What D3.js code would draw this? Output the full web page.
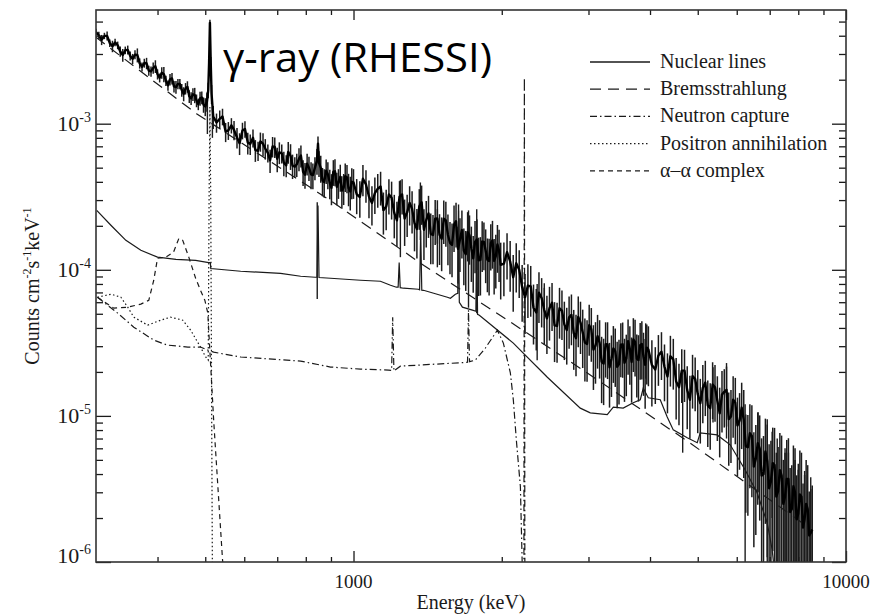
<!DOCTYPE html>
<html lang="en">
<head>
<meta charset="UTF-8"/>
<title>RHESSI gamma-ray spectrum</title>
<script src="https://d3js.org/d3.v7.min.js"></script>
<style>
  body { margin: 0; background: #fff; }
  svg { display: block; }
</style>
</head>
<body>
<script>
// ---- data ----
// observed count spectrum [keV, counts cm-2 s-1 keV-1, relative error]
var observed = [
  [300,4.25e-3,.05],[304,4.02e-3,.06],[308,3.75e-3,.08],[312,3.99e-3,.05],[316,3.99e-3,.07],[320,3.56e-3,.06],
  [324,3.39e-3,.09],[328,3.6e-3,.06],[332,3.44e-3,.06],[336,3.12e-3,.08],[340,2.95e-3,.1],[344,3.18e-3,.06],
  [348,3.2e-3,.07],[352,2.91e-3,.07],[356,2.78e-3,.08],[360,2.97e-3,.07],[364,2.95e-3,.11],[368,2.59e-3,.08],
  [372,2.45e-3,.07],[376,2.6e-3,.07],[380,2.59e-3,.09],[384,2.31e-3,.08],[388,2.28e-3,.08],[392,2.41e-3,.09],
  [396,2.47e-3,.1],[400,2.18e-3,.08],[404,2.06e-3,.07],[408,2.23e-3,.09],[412,2.18e-3,.12],[416,1.97e-3,.08],
  [420,1.83e-3,.08],[424,2.01e-3,.09],[428,2.04e-3,.09],[432,1.8e-3,.09],[436,1.78e-3,.1],[440,1.87e-3,.08],
  [444,1.87e-3,.08],[448,1.7e-3,.1],[452,1.6e-3,.11],[456,1.74e-3,.09],[460,1.79e-3,.09],[464,1.54e-3,.1],
  [468,1.49e-3,.1],[472,1.59e-3,.1],[476,1.57e-3,.12],[480,1.44e-3,.1],[484,1.36e-3,.09],[488,1.49e-3,.11],
  [492,1.51e-3,.1],[496,1.35e-3,.12],[500,1.31e-3,.14],[504,1.42e-3,.15],[507,1.7e-3,.12],[509,2.6e-3,.1],
  [511,4.9e-3,.05],[513,2.6e-3,.1],[515,1.6e-3,.15],[519,1.12e-3,.18],
  [527,1.02e-3,.15],[535,1.08e-3,.14],[542,1.12e-3,.13],[550,8.8e-4,.15],[557,9.0e-4,.14],[565,9.74e-4,.12],
  [572,9.06e-4,.15],[580,8.04e-4,.16],[587,7.35e-4,.17],[595,8.98e-4,.13],[602,9.2e-4,.13],[610,7.42e-4,.17],
  [617,7.27e-4,.16],[625,8.0e-4,.14],[632,6.6e-4,.17],[640,6.53e-4,.15],[647,7.56e-4,.15],[655,7.29e-4,.18],
  [662,6.76e-4,.16],[670,6.31e-4,.14],[677,5.61e-4,.18],[685,6.99e-4,.16],[692,6.93e-4,.16],[700,5.75e-4,.19],
  [707,6.37e-4,.17],[715,6.27e-4,.15],[722,5.4e-4,.19],[730,5.19e-4,.17],[737,6.41e-4,.17],[745,6.03e-4,.2],
  [752,5.16e-4,.19],[760,5.08e-4,.16],[767,5.27e-4,.18],[775,5.76e-4,.18],[782,6.05e-4,.17],[790,4.69e-4,.2],
  [797,4.48e-4,.2],[805,5.32e-4,.17],[812,5.0e-4,.19],[820,4.5e-4,.21],[827,4.45e-4,.2],[835,5.0e-4,.18],
  [843,5.6e-4,.2],[847,7.3e-4,.12],[851,5.4e-4,.2],[858,4.99e-4,.21],[865,4.08e-4,.22],[872,3.99e-4,.22],
  [880,4.77e-4,.19],[887,4.5e-4,.21],[895,3.94e-4,.23],[902,3.64e-4,.24],[910,4.69e-4,.2],[917,4.72e-4,.21],
  [925,3.69e-4,.25],[932,3.97e-4,.23],[940,4.33e-4,.21],[947,3.49e-4,.25],[955,3.65e-4,.24],[962,4.37e-4,.22],
  [970,4.28e-4,.22],[977,3.63e-4,.25],[985,3.44e-4,.26],[992,4.0e-4,.24],[1000,3.97e-4,.23],
  [1015,3.29e-4,.27],[1030,3.15e-4,.28],[1045,4.2e-4,.24],[1060,3.84e-4,.25],[1075,3.17e-4,.29],[1090,2.87e-4,.3],
  [1105,3.35e-4,.28],[1120,3.59e-4,.26],[1135,3.72e-4,.26],[1150,2.56e-4,.32],[1165,2.7e-4,.31],[1180,3.28e-4,.27],
  [1195,3.11e-4,.29],[1210,2.45e-4,.33],[1225,2.18e-4,.34],[1240,3.16e-4,.28],[1255,3.28e-4,.27],[1270,2.24e-4,.35],
  [1285,2.47e-4,.32],[1300,2.87e-4,.3],[1315,2.61e-4,.32],[1330,2.09e-4,.36],[1345,1.9e-4,.37],[1360,2.72e-4,.31],
  [1375,2.9e-4,.3],[1390,1.88e-4,.38],[1405,2.19e-4,.35],[1420,2.43e-4,.32],[1435,1.76e-4,.38],[1450,1.73e-4,.37],
  [1465,2.24e-4,.34],[1480,2.25e-4,.33],[1495,1.74e-4,.38],[1510,1.63e-4,.4],[1525,2.24e-4,.33],[1540,2.18e-4,.34],
  [1555,1.73e-4,.38],[1570,1.53e-4,.39],[1585,1.48e-4,.4],[1600,2.04e-4,.35],[1615,2.15e-4,.34],[1630,1.39e-4,.42],
  [1645,1.61e-4,.4],[1660,1.87e-4,.36],[1675,1.35e-4,.42],[1690,1.28e-4,.44],[1705,1.81e-4,.37],[1720,1.72e-4,.37],
  [1735,1.4e-4,.41],[1750,1.2e-4,.42],[1765,1.55e-4,.39],[1780,1.61e-4,.38],[1795,1.16e-4,.43],[1810,1.17e-4,.43],
  [1825,1.56e-4,.38],[1840,1.55e-4,.36],[1855,1.35e-4,.4],[1870,1.17e-4,.4],[1885,1.15e-4,.42],[1900,1.52e-4,.35],
  [1915,1.59e-4,.36],[1930,1.15e-4,.41],[1945,1.24e-4,.4],[1960,1.49e-4,.36],[1975,1.35e-4,.39],[1990,1.08e-4,.42],
  [2020,1.1e-4,.4],
  [2050,1.32e-4,.35],[2080,1.14e-4,.38],[2110,8.9e-5,.42],[2140,1.11e-4,.37],[2170,1.0e-4,.36],[2200,7.6e-5,.42],
  [2230,6.5e-5,.44],[2260,7.8e-5,.4],[2290,7.7e-5,.38],[2320,5.5e-5,.44],[2350,5.1e-5,.45],[2380,6.96e-5,.38],
  [2410,6.4e-5,.37],[2440,5.3e-5,.42],[2470,4.65e-5,.43],[2500,5.46e-5,.4],[2530,5.96e-5,.36],[2560,4.17e-5,.44],
  [2590,4.13e-5,.44],[2620,5.45e-5,.38],[2650,5.26e-5,.37],[2680,4.23e-5,.43],[2710,3.87e-5,.42],[2740,4.73e-5,.39],
  [2770,4.91e-5,.38],[2800,3.69e-5,.44],[2830,3.4e-5,.45],[2860,4.76e-5,.38],[2890,4.35e-5,.39],[2920,3.73e-5,.43],
  [2950,3.18e-5,.46],[2980,3.11e-5,.45],[3010,4.17e-5,.38],[3040,3.91e-5,.4],[3070,2.84e-5,.47],[3100,3.02e-5,.45],
  [3130,3.51e-5,.4],[3160,3.16e-5,.43],[3190,2.35e-5,.48],[3220,2.28e-5,.48],[3250,3.1e-5,.41],[3280,3.08e-5,.42],
  [3310,2.15e-5,.47],[3340,2.45e-5,.45],[3370,2.9e-5,.42],[3400,2.77e-5,.43],[3430,2.17e-5,.48],[3460,2.26e-5,.47],
  [3490,3.07e-5,.4],[3520,3.09e-5,.41],[3550,2.31e-5,.46],[3580,2.48e-5,.45],[3610,3.24e-5,.41],[3640,2.87e-5,.43],
  [3670,2.34e-5,.47],[3700,3.33e-5,.4],[3730,3.21e-5,.42],[3760,2.47e-5,.46],[3790,2.41e-5,.48],[3820,3.05e-5,.42],
  [3850,3.11e-5,.43],[3880,2.54e-5,.46],[3910,2.24e-5,.5],[3940,2.93e-5,.44],[3970,2.85e-5,.44],[4035,2.23e-5,.48],
  [4100,2.08e-5,.42],[4160,2.59e-5,.38],[4220,2.75e-5,.36],[4280,2.17e-5,.42],[4340,1.86e-5,.44],[4400,2.56e-5,.38],
  [4460,2.44e-5,.38],[4520,1.72e-5,.45],[4580,1.57e-5,.45],[4640,2.04e-5,.4],[4700,2.04e-5,.39],[4760,1.5e-5,.46],
  [4820,1.29e-5,.46],[4880,1.87e-5,.4],[4940,1.79e-5,.4],[5000,1.41e-5,.46],[5060,1.22e-5,.47],[5120,1.56e-5,.43],
  [5180,1.69e-5,.41],[5240,1.18e-5,.48],[5300,1.13e-5,.48],[5360,1.64e-5,.42],[5420,1.57e-5,.42],[5480,1.27e-5,.47],
  [5540,1.04e-5,.5],[5600,1.4e-5,.45],[5660,1.46e-5,.43],[5720,1.51e-5,.44],[5780,9.5e-6,.52],[5840,9.9e-6,.52],
  [5900,1.29e-5,.45],[5960,1.23e-5,.48],[6020,8.6e-6,.55],[6080,9.3e-6,.54],[6140,1.14e-5,.48],[6200,9.4e-6,.6],
  [6260,6.2e-6,.65],[6320,6.1e-6,.66],[6380,7.6e-6,.58],[6440,7.3e-6,.62],[6500,4.5e-6,.72],[6560,5.1e-6,.7],
  [6620,6.5e-6,.62],[6680,6.0e-6,.68],[6740,3.9e-6,.8],[6800,4.0e-6,.82],[6860,5.7e-6,.68],[6920,4.9e-6,.78],
  [6980,3.2e-6,1],[7040,3.56e-6,.9],[7100,4.75e-6,.75],[7160,4.6e-6,.8],[7220,2.8e-6,1],[7280,3.06e-6,1],
  [7340,4.25e-6,.8],[7400,3.9e-6,.88],[7460,2.5e-6,1],[7520,2.8e-6,1],[7580,3.7e-6,.85],[7640,3.7e-6,.9],
  [7700,2.2e-6,1],[7760,2.3e-6,1],[7820,3.3e-6,.9],[7880,3.0e-6,1],[7940,1.96e-6,1],[8000,2.14e-6,1],
  [8060,2.9e-6,1],[8120,2.8e-6,1],[8180,1.72e-6,1],[8240,1.97e-6,1],[8300,2.5e-6,1],[8360,2.3e-6,1],
  [8420,1.52e-6,1],[8480,1.58e-6,1],[8540,1.67e-6,1]
];

// extra long error bars of the observed spectrum [keV, low, high]
var observedErr = [
  [505,8.5e-4,1.6e-3],[517,8.0e-4,1.3e-3],[844,6.3e-5,2.9e-4],
  [1245,1.22e-4,4.1e-4],[1367,1.6e-4,3.96e-4],[1480,1.04e-4,2.6e-4],[1634,1.0e-4,2.8e-4],
  [1712,5.5e-5,2.55e-4],[1779,5.05e-5,2.6e-4],[2360,2.4e-5,8.0e-5],[2440,4.0e-5,8.1e-5],
  [3920,1.8e-5,4.3e-5],[4660,5.6e-6,2.0e-5],[5370,9.0e-6,2.15e-5],[5720,7.0e-6,2.3e-5],
  [6240,8.0e-7,1.2e-5],[6630,3.0e-6,1.06e-5],[6920,8.0e-7,9.5e-6],[7080,2.0e-6,7.8e-6],
  [7250,8.0e-7,7.0e-6],[7520,8.0e-7,6.0e-6],[7640,8.0e-7,5.6e-6],[7880,8.0e-7,5.0e-6],
  [8000,8.0e-7,4.7e-6],[8240,8.0e-7,4.2e-6],[8480,8.0e-7,3.8e-6]
];

// model components
var nuclearLines = [
  [301,2.55e-4],[322,2.01e-4],[345,1.59e-4],[370,1.36e-4],[400,1.22e-4],[436,1.18e-4],[478,1.16e-4],[508,1.12e-4],
  [512,1.12e-4],[513,1.02e-4],[590,9.77e-5],[711,9.46e-5],[781,9.03e-5],[836,8.89e-5],[843,8.9e-5],[847,2.75e-4],
  [851,8.85e-5],[898,8.75e-5],[1033,8.48e-5],[1134,8.35e-5],[1189,7.84e-5],[1222,7.6e-5],[1232,7.6e-5],[1238,1.12e-4],
  [1244,7.55e-5],[1263,7.48e-5],[1354,7.36e-5],[1362,7.3e-5],[1369,1.86e-4],[1376,7.25e-5],[1387,7.24e-5],[1551,6.49e-5],
  [1573,6.39e-5],[1610,6.8e-5],[1628,6.9e-5],[1634,2.55e-4],[1640,6.0e-5],[1664,5.55e-5],[1744,5.29e-5],[1772,5.2e-5],
  [1779,2.18e-4],[1786,4.95e-5],[1801,4.89e-5],[2111,3.15e-5],[2475,1.84e-5],[2887,1.13e-5],[3025,1.05e-5],[3275,1.02e-5],
  [3369,1.15e-5],[3529,1.13e-5],[3698,1.23e-5],[3822,1.29e-5],[3875,1.55e-5],[3967,1.33e-5],[4196,1.29e-5],[4335,9.84e-6],
  [4459,8.02e-6],[4760,7.08e-6],[4988,6.55e-6],[5058,7.66e-6],[5474,7.41e-6],[5819,6.34e-6],[6238,4.28e-6],[6599,2.98e-6],
  [6916,1.86e-6],[7079,1.22e-6],[7150,8.9e-7]
];
var bremsstrahlung = [
  [300,3.9e-3],[480,1.17e-3],[895,3.0e-4],[1390,1.07e-4],[2080,4.4e-5],[3030,1.9e-5],[4830,6.5e-6],[8450,1.7e-6]
];
var neutronCapture = [
  [302,6.49e-5],[332,5.05e-5],[358,4.05e-5],[393,3.3e-5],[419,3.05e-5],[461,2.96e-5],[489,2.96e-5],[506,2.82e-5],
  [520,2.73e-5],[590,2.53e-5],[781,2.37e-5],[898,2.16e-5],[1033,2.09e-5],[1178,2.06e-5],[1195,2.05e-5],[1201,4.74e-5],
  [1208,2.03e-5],[1245,2.19e-5],[1432,2.25e-5],[1688,2.32e-5],[1704,2.33e-5],[1712,5.29e-5],[1720,2.35e-5],[1768,2.41e-5],
  [1852,2.91e-5],[1959,3.86e-5],[2015,3.15e-5],[2082,1.97e-5],[2111,1.29e-5],[2141,6.85e-6],[2182,3.27e-6],[2202,8.9e-7],
  [2218,8.9e-7],[2223,2.06e-3],[2228,8.9e-7],[2260,8.9e-7]
];
var positron = [
  [302,6.49e-5],[322,6.81e-5],[337,6.49e-5],[348,5.55e-5],[358,4.74e-5],[382,4.18e-5],[406,4.52e-5],[425,4.74e-5],
  [450,4.52e-5],[467,3.86e-5],[489,2.96e-5],[501,2.53e-5],[507,2.41e-5],[509,3.0e-4],[511,1.3e-3],[513,3.0e-4],
  [515,1.5e-5],[517,8e-7]
];
var alphaAlpha = [
  [302,6.49e-5],[326,5.46e-5],[348,5.55e-5],[370,5.82e-5],[384,6.19e-5],[393,8.48e-5],[400,1.2e-4],[416,1.22e-4],
  [431,1.32e-4],[442,1.64e-4],[450,1.59e-4],[463,1.22e-4],[478,8.75e-5],[489,7.24e-5],[499,6.19e-5],[506,5.05e-5],
  [520,9.39e-6],[542,1.04e-6],[548,7.5e-7]
];

var legendLabels = ["Nuclear lines", "Bremsstrahlung", "Neutron capture", "Positron annihilation", "\u03b1\u2013\u03b1 complex"];
var xTickLabels = ["1000", "10000"];
var yTickExponents = ["-6", "-5", "-4", "-3"];

// ---- layout ----
var W = 888, H = 614;
var plotL = 96, plotR = 846, plotT = 10, plotB = 562;
var serif = "'Liberation Serif', 'Times New Roman', serif";
var ink = "#1a1a1a";
var floorValue = 8e-7;   // error bars that reach zero are cut at the axis

var xScale = d3.scaleLog().domain([300, 10000]).range([plotL, plotR]);
var yScale = d3.scaleLog().domain([1e-6, 6e-3]).range([plotB, plotT]);

var svg = d3.select("body").append("svg")
    .attr("width", W)
    .attr("height", H)
    .style("background", "#fff");

svg.append("clipPath").attr("id", "plotclip")
    .append("rect")
    .attr("x", plotL).attr("y", plotT)
    .attr("width", plotR - plotL).attr("height", plotB - plotT);

var plot = svg.append("g").attr("clip-path", "url(#plotclip)");

var line = d3.line()
    .x(function (d) { return xScale(d[0]); })
    .y(function (d) { return yScale(d[1]); });

// model curves, drawn first so the data sits on top
var styles = [
    { data: nuclearLines, dash: null },
    { data: bremsstrahlung, dash: "11,7" },
    { data: neutronCapture, dash: "7,3,1.5,3" },
    { data: positron, dash: "1.5,2.5" },
    { data: alphaAlpha, dash: "5,4" }
];

styles.forEach(function (s) {
    plot.append("path")
        .datum(s.data)
        .attr("d", line)
        .attr("fill", "none")
        .attr("stroke", ink)
        .attr("stroke-width", 1.2)
        .attr("stroke-dasharray", s.dash);
});

// observed spectrum: error bars and the jagged trace
plot.selectAll("line.bar")
    .data(observed)
    .enter()
    .append("line")
    .attr("class", "bar")
    .attr("x1", function (d) { return xScale(d[0]); })
    .attr("x2", function (d) { return xScale(d[0]); })
    .attr("y1", function (d) { return yScale(Math.max(d[1] * (1 - d[2]), floorValue)); })
    .attr("y2", function (d) { return yScale(d[1] * (1 + d[2])); })
    .attr("stroke", "#1c1c1c")
    .attr("stroke-width", 1.5);

plot.selectAll("line.err")
    .data(observedErr)
    .enter()
    .append("line")
    .attr("class", "err")
    .attr("x1", function (d) { return xScale(d[0]); })
    .attr("x2", function (d) { return xScale(d[0]); })
    .attr("y1", function (d) { return yScale(d[1]); })
    .attr("y2", function (d) { return yScale(d[2]); })
    .attr("stroke", "#1c1c1c")
    .attr("stroke-width", 1.4);

plot.append("path")
    .datum(observed)
    .attr("d", line)
    .attr("fill", "none")
    .attr("stroke", "#000")
    .attr("stroke-width", 2.4)
    .attr("stroke-linejoin", "round");

// ---- axes (ticks inward on all four sides) ----
function isDecade(v) {
    var l = Math.log10(v);
    return Math.abs(l - Math.round(l)) < 1e-6;
}
var xMajor = xScale.ticks().filter(isDecade);
var xMinor = xScale.ticks().filter(function (d) { return !isDecade(d) && d > 300; });
var yMajor = yScale.ticks().filter(isDecade);
var yMinor = yScale.ticks().filter(function (d) { return !isDecade(d) && d < 6e-3; });

function addAxis(axisFn, scale, values, size, tx, ty) {
    var g = svg.append("g")
        .attr("transform", "translate(" + tx + "," + ty + ")")
        .call(axisFn(scale).tickValues(values).tickSizeInner(-size).tickSizeOuter(0).tickFormat(""));
    g.select(".domain").remove();
    g.selectAll(".tick line").attr("stroke", ink).attr("stroke-width", 1.3);
    return g;
}
addAxis(d3.axisBottom, xScale, xMajor, 11, 0, plotB);
addAxis(d3.axisBottom, xScale, xMinor, 5, 0, plotB);
addAxis(d3.axisTop, xScale, xMajor, 10, 0, plotT);
addAxis(d3.axisTop, xScale, xMinor, 5, 0, plotT);
addAxis(d3.axisLeft, yScale, yMajor, 15, plotL, 0);
addAxis(d3.axisLeft, yScale, yMinor, 7, plotL, 0);
addAxis(d3.axisRight, yScale, yMajor, 14, plotR, 0);
addAxis(d3.axisRight, yScale, yMinor, 7, plotR, 0);

svg.append("rect")
    .attr("x", plotL).attr("y", plotT)
    .attr("width", plotR - plotL).attr("height", plotB - plotT)
    .attr("fill", "none")
    .attr("stroke", "#333")
    .attr("stroke-width", 1.6);

// x tick labels
svg.selectAll("text.xlab")
    .data(xMajor)
    .enter()
    .append("text")
    .attr("class", "xlab")
    .attr("x", function (d) { return xScale(d); })
    .attr("y", 588)
    .attr("text-anchor", "middle")
    .attr("font-family", serif)
    .attr("font-size", 19)
    .attr("fill", ink)
    .text(function (d, i) { return xTickLabels[i]; });

// y tick labels: 10 with a superscript exponent
yMajor.forEach(function (v, i) {
    var yy = Math.min(yScale(v) + 7, 563);
    var t = svg.append("text")
        .attr("x", 91)
        .attr("y", yy)
        .attr("text-anchor", "end")
        .attr("font-family", serif)
        .attr("font-size", 22)
        .attr("fill", ink);
    t.append("tspan").text("10");
    t.append("tspan").attr("dy", -9).attr("font-size", 14).text(yTickExponents[i]);
});

// axis titles
svg.append("text")
    .attr("x", (plotL + plotR) / 2)
    .attr("y", 609)
    .attr("text-anchor", "middle")
    .attr("font-family", serif)
    .attr("font-size", 20)
    .attr("fill", ink)
    .text("Energy (keV)");

var yl = svg.append("text")
    .attr("transform", "translate(39," + ((plotT + plotB) / 2) + ") rotate(-90)")
    .attr("text-anchor", "middle")
    .attr("font-family", serif)
    .attr("font-size", 20)
    .attr("fill", ink);
yl.append("tspan").text("Counts cm");
yl.append("tspan").attr("dy", -8).attr("font-size", 12).text("-2");
yl.append("tspan").attr("dy", 8).text("s");
yl.append("tspan").attr("dy", -8).attr("font-size", 12).text("-1");
yl.append("tspan").attr("dy", 8).text("keV");
yl.append("tspan").attr("dy", -8).attr("font-size", 12).text("-1");

// legend
var legend = svg.append("g");
legendLabels.forEach(function (label, i) {
    var ly = 62 + i * 27.2;
    legend.append("line")
        .attr("x1", 590).attr("x2", 650)
        .attr("y1", ly).attr("y2", ly)
        .attr("stroke", ink)
        .attr("stroke-width", 1.3)
        .attr("stroke-dasharray", styles[i].dash);
    legend.append("text")
        .attr("x", 660)
        .attr("y", ly + 6)
        .attr("font-family", serif)
        .attr("font-size", 20)
        .attr("fill", ink)
        .text(label);
});

// overlay title
svg.append("text")
    .attr("x", 223)
    .attr("y", 72)
    .attr("font-family", "'Open Sans', 'Noto Sans', sans-serif")
    .attr("font-size", 41)
    .attr("textLength", 269)
    .attr("lengthAdjust", "spacingAndGlyphs")
    .attr("fill", "#000")
    .text("\u03b3-ray (RHESSI)");
</script>
</body>
</html>
